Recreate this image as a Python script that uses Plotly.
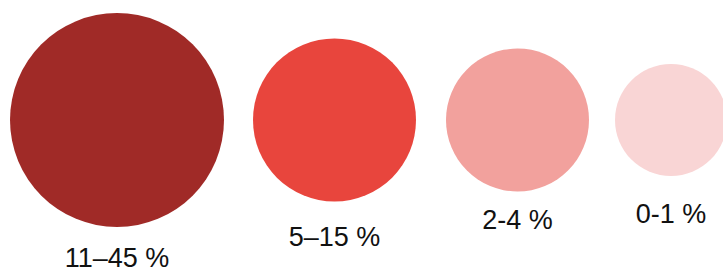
import plotly.graph_objects as go

# ---- data ----
categories = ["11\u201345 %", "5\u201315 %", "2-4 %", "0-1 %"]
bubble_diameter = [214, 163, 143, 112]
colors = ["#A02A27", "#E8453D", "#F2A19D", "#F9D5D5"]

# ---- layout helpers ----
W, H = 723, 276
left_pad = 10
gaps = [29, 30, 26]
center_y = 120
label_offset = [33, 38, 31, 40]

xs = []
cursor = left_pad
for i, d in enumerate(bubble_diameter):
    xs.append(cursor + d / 2)
    cursor += d + (gaps[i] if i < len(gaps) else 0)
ys = [center_y] * len(categories)
label_y = [center_y + d / 2 + o for d, o in zip(bubble_diameter, label_offset)]

fig = go.Figure()
fig.add_trace(go.Scatter(
    x=xs, y=ys, mode="markers",
    marker=dict(size=bubble_diameter, sizemode="diameter", sizeref=1,
                color=colors, line=dict(width=0), opacity=1),
    hoverinfo="skip", showlegend=False,
))
fig.add_trace(go.Scatter(
    x=xs, y=label_y, mode="text", text=categories,
    textposition="middle center",
    textfont=dict(family="Liberation Sans, Arial, sans-serif", size=27, color="#111111"),
    hoverinfo="skip", showlegend=False,
))

fig.update_layout(
    width=W, height=H,
    margin=dict(l=0, r=0, t=0, b=0),
    paper_bgcolor="white", plot_bgcolor="white",
    xaxis=dict(range=[0, W], visible=False, fixedrange=True),
    yaxis=dict(range=[H, 0], visible=False, fixedrange=True),
)
fig.write_html(
    "out.html",
    config={"displayModeBar": False},
    post_script="document.body.style.margin='0';document.body.style.overflow='hidden';",
)
